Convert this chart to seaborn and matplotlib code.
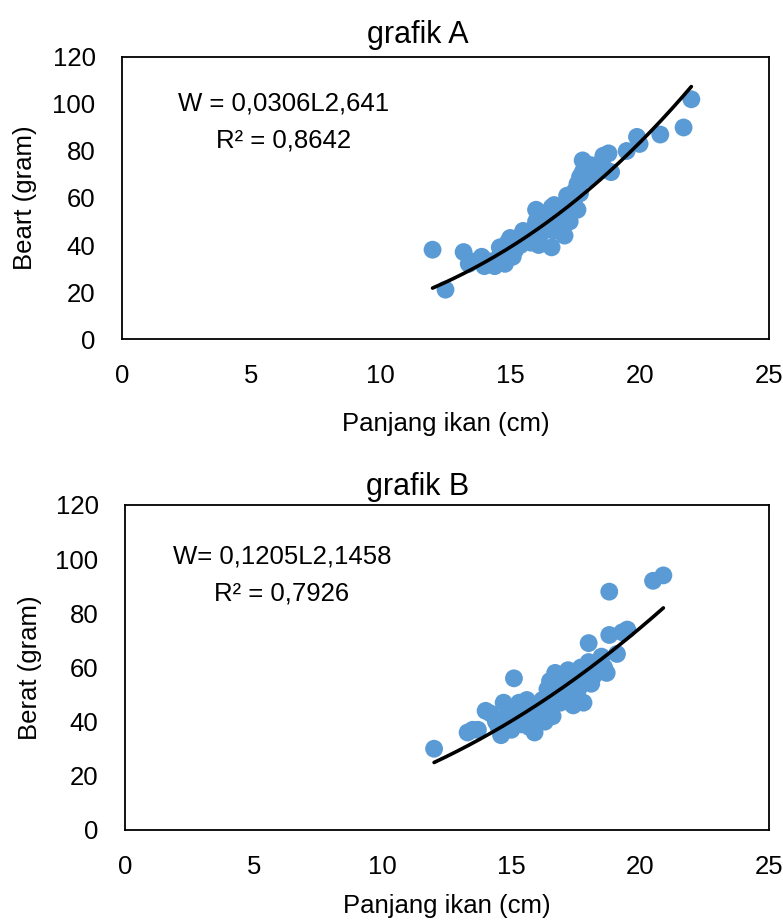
import numpy as np
import pandas as pd
import matplotlib
matplotlib.use("Agg")
import matplotlib.pyplot as plt
import seaborn as sns

# ---- data: grafik A ----
len_a = [12.0, 12.5, 13.2, 13.4, 13.5, 13.9, 14.0, 14.2, 14.4, 14.5, 14.6, 14.7, 14.8, 14.9,
         15.0, 15.1, 15.2, 15.3, 15.4, 15.5, 15.6, 15.7, 15.8, 15.9, 16.0, 16.0, 16.1, 16.2,
         16.3, 16.4, 16.5, 16.6, 16.6, 16.7, 16.7, 16.8, 16.9, 17.0, 17.0, 17.1, 17.1, 17.2,
         17.3, 17.3, 17.4, 17.5, 17.5, 17.6, 17.6, 17.7, 17.7, 17.8, 17.8, 17.9, 18.0, 18.1,
         18.2, 18.3, 18.5, 18.6, 18.7, 18.8, 18.9, 19.5, 19.9, 20.0, 20.8, 21.7, 22.0]
wt_a = [38, 21, 37, 32, 33, 35, 31, 33, 31, 34, 39, 36, 32, 41,
        43, 35, 38, 43, 40, 46, 43, 44, 41, 47, 55, 50, 40, 45,
        52, 48, 50, 39, 56, 57, 46, 53, 50, 48, 55, 44, 52, 61,
        58, 50, 56, 63, 60, 55, 66, 69, 62, 76, 71, 68, 72, 74,
        70, 73, 75, 78, 72, 79, 71, 80, 86, 83, 87, 90, 102]
coef_a = [0.0306, 2.641]
range_a = [12.0, 22.0]

# ---- data: grafik B ----
len_b = [12.0, 13.3, 13.5, 13.7, 14.0, 14.2, 14.4, 14.5, 14.6, 14.7, 14.8, 14.9, 15.0, 15.1,
         15.1, 15.2, 15.3, 15.4, 15.5, 15.6, 15.7, 15.8, 15.9, 16.0, 16.2, 16.3, 16.4, 16.5,
         16.5, 16.6, 16.6, 16.7, 16.8, 16.9, 17.0, 17.0, 17.1, 17.2, 17.3, 17.3, 17.4, 17.5,
         17.6, 17.7, 17.8, 17.8, 17.9, 18.0, 18.0, 18.1, 18.2, 18.3, 18.4, 18.5, 18.6, 18.7,
         18.8, 18.8, 19.1, 19.3, 19.5, 20.5, 20.9]
wt_b = [30, 36, 37, 37, 44, 43, 40, 38, 35, 47, 42, 44, 37, 56,
        40, 45, 47, 39, 42, 48, 38, 45, 36, 43, 48, 40, 52, 55,
        46, 50, 42, 58, 53, 47, 57, 51, 55, 59, 48, 53, 46, 57,
        52, 60, 47, 55, 58, 69, 62, 54, 57, 61, 59, 64, 60, 58,
        88, 72, 65, 73, 74, 92, 94]
coef_b = [0.1205, 2.1458]
range_b = [12.0, 20.9]

x_ticks = [0, 5, 10, 15, 20, 25]
y_ticks = [0, 20, 40, 60, 80, 100, 120]

sns.set_theme(style="white")
plt.rcParams['font.family'] = ['Liberation Sans', 'DejaVu Sans']
for k in ["text.color", "axes.labelcolor", "xtick.color", "ytick.color"]:
    plt.rcParams[k] = "black"

fig = plt.figure(figsize=(7.83, 9.22), dpi=100)
ax_a = fig.add_axes([0.1558, 0.6323, 0.8263, 0.3059])
ax_b = fig.add_axes([0.1596, 0.0998, 0.8225, 0.3525])

blue = "#5B9BD5"
FS = 18.5

def draw(ax, L, W, coef, rng, ylabel, title, eq1, eq2, eqpos, title_y, xpad, ypad):
    df = pd.DataFrame({"L": L, "W": W})
    sns.scatterplot(data=df, x="L", y="W", ax=ax, color=blue, s=165,
                    edgecolor="none", linewidth=0, zorder=2)
    xs = np.linspace(rng[0], rng[1], 200)
    fit = pd.DataFrame({"L": xs, "W": coef[0] * xs ** coef[1]})
    sns.lineplot(data=fit, x="L", y="W", ax=ax, color="black", lw=2.6, zorder=3)
    ax.set_xlim(0, 25)
    ax.set_ylim(0, 120)
    ax.set_xticks(x_ticks)
    ax.set_yticks(y_ticks)
    ax.tick_params(axis="x", length=0, pad=18, labelsize=FS)
    ax.tick_params(axis="y", length=0, pad=19, labelsize=FS)
    for sp in ax.spines.values():
        sp.set_visible(True)
        sp.set_color("black")
        sp.set_linewidth(1.3)
    ax.set_xlabel("Panjang ikan (cm)", fontsize=FS, labelpad=xpad)
    ax.set_ylabel(ylabel, fontsize=FS, labelpad=ypad)
    ax.grid(False)
    ax.text(eqpos[0], eqpos[1], eq1, ha="center", va="center", fontsize=FS)
    ax.text(eqpos[0], eqpos[2], eq2, ha="center", va="center", fontsize=FS)
    fig.text(418 / 783, title_y, title, ha="center", va="center", fontsize=22)

draw(ax_a, len_a, wt_a, coef_a, range_a, "Beart (gram)", "grafik A",
     "W = 0,0306L2,641", "R\u00b2 = 0,8642", (6.26, 100.4, 84.3), 1 - 35 / 922, 17, 11)
draw(ax_b, len_b, wt_b, coef_b, range_b, "Berat (gram)", "grafik B",
     "W= 0,1205L2,1458", "R\u00b2 = 0,7926", (6.09, 101.1, 87.5), 1 - 487 / 922, 11, 10)

fig.savefig("out.png", dpi=100)
